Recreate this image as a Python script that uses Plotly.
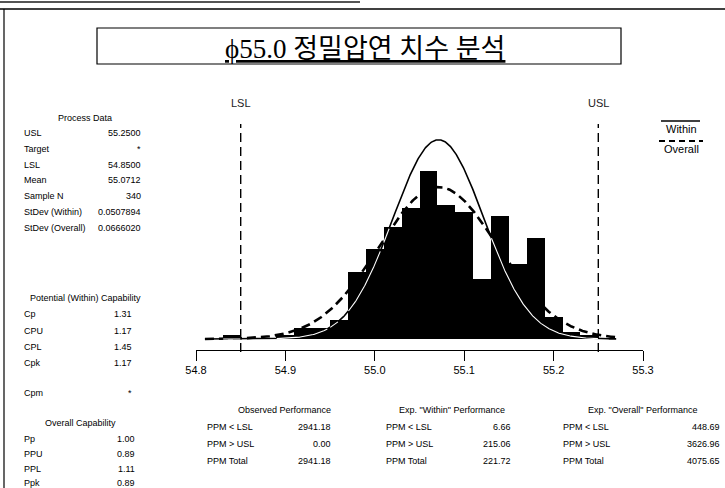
import numpy as np
import plotly.graph_objects as go

# ---------------- data ----------------
bin_centers = [54.84, 54.86, 54.88, 54.90, 54.92, 54.94, 54.96, 54.98, 55.00, 55.02,
               55.04, 55.06, 55.08, 55.10, 55.12, 55.14, 55.16, 55.18, 55.20, 55.22, 55.24]
bin_counts = [1, 0, 0, 1, 3, 3, 5, 18, 24, 30,
              35, 45, 36, 34, 16, 33, 20, 27, 6, 2, 1]
bin_width = 0.02

LSL = 54.85
USL = 55.25
MEAN = 55.0712
N = 340
SD_WITHIN = 0.0507894
SD_OVERALL = 0.0666020

tick_vals = [54.8, 54.9, 55.0, 55.1, 55.2, 55.3]
tick_text = ["54.8", "54.9", "55.0", "55.1", "55.2", "55.3"]

title_text = "ϕ55.0 정밀압연 치수 분석"

process_labels = ["USL", "Target", "LSL", "Mean", "Sample N", "StDev (Within)", "StDev (Overall)"]
process_values = ["55.2500", "*", "54.8500", "55.0712", "340", "0.0507894", "0.0666020"]

within_labels = ["Cp", "CPU", "CPL", "Cpk", "Cpm"]
within_values = ["1.31", "1.17", "1.45", "1.17", "*"]

overall_labels = ["Pp", "PPU", "PPL", "Ppk"]
overall_values = ["1.00", "0.89", "1.11", "0.89"]

ppm_labels = ["PPM < LSL", "PPM > USL", "PPM Total"]
observed_values = ["2941.18", "0.00", "2941.18"]
exp_within_values = ["6.66", "215.06", "221.72"]
exp_overall_values = ["448.69", "3626.96", "4075.65"]

# ---------------- layout geometry (pixels) ----------------
W, H = 725, 488
PL, PR, PT, PB = 196, 643, 100, 350   # plot area edges in pixels
PX_PER_COUNT = 3.73
y_bottom = -(PB - 339) / PX_PER_COUNT
y_top = y_bottom + (PB - PT) / PX_PER_COUNT


def px(x):
    return (x - PL) / (PR - PL)


def py(y):
    return (PB - y) / (PB - PT)


FONT = "Liberation Sans, Arial, sans-serif"

fig = go.Figure()

# histogram bars
fig.add_trace(go.Bar(x=bin_centers, y=bin_counts, width=bin_width,
                     marker=dict(color="black", line=dict(width=0)),
                     showlegend=False, hoverinfo="skip"))

# normal curves
xs = np.linspace(54.81, 55.27, 700)


def norm_freq(x, sd):
    return N * bin_width * np.exp(-0.5 * ((x - MEAN) / sd) ** 2) / (sd * np.sqrt(2 * np.pi))


y_over = norm_freq(xs, SD_OVERALL)
y_with = norm_freq(xs, SD_WITHIN)

fig.add_trace(go.Scatter(x=xs, y=y_over, mode="lines",
                         line=dict(color="black", width=2.6, dash="9px,5px"),
                         showlegend=False, hoverinfo="skip"))
fig.add_trace(go.Scatter(x=xs, y=y_with, mode="lines",
                         line=dict(color="black", width=1.6),
                         showlegend=False, hoverinfo="skip"))

# within curve shows white where it passes through the black bars
edges0 = bin_centers[0] - bin_width / 2
idx = np.floor((xs - edges0) / bin_width).astype(int)
bar_h = np.array([bin_counts[i] if 0 <= i < len(bin_counts) else 0 for i in idx])
y_white = np.where(y_with < bar_h - 0.3, y_with, np.nan)
fig.add_trace(go.Scatter(x=xs, y=[None if np.isnan(v) else v for v in y_white], mode="lines",
                         line=dict(color="white", width=1.1),
                         showlegend=False, hoverinfo="skip", connectgaps=False))

shapes = []
annotations = []


def ann(s, x, y, anchor="center", size=9, family=None, color="black", xref="paper"):
    annotations.append(dict(text=s, x=(px(x) if xref == "paper" else x), y=py(y),
                            xref=xref, yref="paper",
                            xanchor=anchor, yanchor="middle", showarrow=False,
                            font=dict(family=family or FONT, size=size, color=color)))


# spec limit lines
for v in (LSL, USL):
    shapes.append(dict(type="line", xref="x", yref="paper", x0=v, x1=v,
                       y0=py(352), y1=py(124),
                       line=dict(color="black", width=1.4, dash="9px,5px")))
ann("LSL", LSL, 103, size=11, color="#222", xref="x")
ann("USL", USL, 103, size=11, color="#222", xref="x")

# legend
shapes.append(dict(type="line", xref="paper", yref="paper", x0=px(661), x1=px(700),
                   y0=py(121), y1=py(121), line=dict(color="black", width=1.3)))
shapes.append(dict(type="line", xref="paper", yref="paper", x0=px(659), x1=px(703),
                   y0=py(141), y1=py(141), line=dict(color="black", width=2.2, dash="6px,4px")))
ann("Within", 681, 129, size=11)
ann("Overall", 681, 149, size=11)

# title box
shapes.append(dict(type="rect", xref="paper", yref="paper", x0=px(97), x1=px(621),
                   y0=py(64), y1=py(28), line=dict(color="black", width=1.2)))
ann("<u>" + title_text + "</u>", 365, 49, size=27,
    family="Liberation Serif, Noto Sans CJK KR, serif")

# outer frame (scanned border)
shapes.append(dict(type="line", xref="paper", yref="paper", x0=px(0), x1=px(725),
                   y0=py(9), y1=py(9), line=dict(color="black", width=1.5)))
shapes.append(dict(type="line", xref="paper", yref="paper", x0=px(4), x1=px(4),
                   y0=py(9), y1=py(488), line=dict(color="black", width=1.2)))
shapes.append(dict(type="line", xref="paper", yref="paper", x0=px(0), x1=px(360),
                   y0=py(2), y1=py(2), line=dict(color="#555", width=2)))

# left panel
ann("Process Data", 85, 118)
for i, (lab, val) in enumerate(zip(process_labels, process_values)):
    y = 133 + i * 15.8
    ann(lab, 22, y, "left")
    ann(val, 143, y, "right")

ann("Potential (Within) Capability", 85, 298)
within_rows_y = [314, 331, 347, 363, 393]
for lab, val, y in zip(within_labels, within_values, within_rows_y):
    ann(lab, 22, y, "left")
    ann(val, 134, y, "right")

ann("Overall Capability", 80, 423)
overall_rows_y = [439, 454, 469, 483]
for lab, val, y in zip(overall_labels, overall_values, overall_rows_y):
    ann(lab, 22, y, "left")
    ann(val, 137, y, "right")

# bottom tables
tables = [
    ("Observed Performance", 284, 205, 333, observed_values),
    ("Exp. \"Within\" Performance", 452, 384, 513, exp_within_values),
    ("Exp. \"Overall\" Performance", 642, 561, 722, exp_overall_values),
]
for head, cx, lx, rx, vals in tables:
    ann(head, cx, 410)
    for i, (lab, val) in enumerate(zip(ppm_labels, vals)):
        y = 427 + i * 17
        ann(lab, lx, y, "left")
        ann(val, rx, y, "right")

fig.update_layout(
    width=W, height=H,
    margin=dict(l=PL, r=W - PR, t=PT, b=H - PB, pad=0),
    paper_bgcolor="white", plot_bgcolor="white",
    bargap=0, showlegend=False,
    xaxis=dict(range=[54.8, 55.3], tickvals=tick_vals, ticktext=tick_text,
               showline=True, linecolor="black", linewidth=1.2, mirror=False,
               ticks="outside", ticklen=10, tickwidth=1.2, tickcolor="black",
               showgrid=False, zeroline=False,
               tickfont=dict(family=FONT, size=11, color="black")),
    yaxis=dict(range=[y_bottom, y_top], visible=False, showgrid=False, zeroline=False),
    shapes=shapes, annotations=annotations,
)

fig.write_html("out.html", config={"displayModeBar": False},
               post_script="document.body.style.margin='0';document.body.style.overflow='hidden';")
